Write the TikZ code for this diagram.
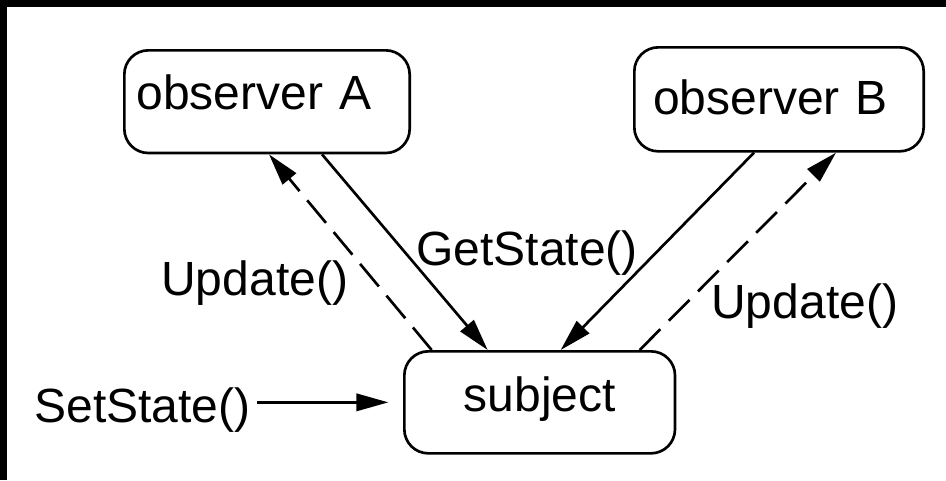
\documentclass[tikz,border=0pt]{standalone}
\usepackage{fontspec}
\setmainfont{Liberation Sans}
\usetikzlibrary{arrows.meta,calc}

\begin{document}
\begin{tikzpicture}[x=0.75pt, y=-0.75pt, line width=2pt,
                    every node/.style={font=\fontsize{36}{40}\selectfont},
                    box node/.style={draw, rounded corners=18pt, inner ysep=0pt, anchor=north west},
                    call/.style={-{Triangle[length=24pt, width=13pt]}},
                    notify/.style={call, dash pattern=on 22pt off 9pt},
                    msg/.style={inner sep=0pt, anchor=base west}]

  % frame edge of the screenshot
  \useasboundingbox (0,0) rectangle (946,480);
  \fill[white] (0,0) rectangle (946,480);
  \fill (0,0) rectangle (946,7);
  \fill (0,0) rectangle (7,480);

  \node[box node, inner xsep=9pt, text width=196pt, align=left,
        text height=44pt, text depth=33pt] (obsA) at (123,49) {observer A};
  \node[box node, inner xsep=14pt, text width=189pt, align=left,
        text height=50pt, text depth=28pt] (obsB) at (633,46) {observer B};
  \node[box node, inner xsep=0pt, text width=203pt, align=center,
        text height=45pt, text depth=31.5pt] (subject) at (403,350) {subject};

  \node[msg] (updA) at (160,295) {Update()};
  \node[msg] (get) at (415,265) {GetState()};
  \node[msg] (updB) at (710,318) {Update()};
  \node[msg] (set) at (33,422) {SetState()};

  \draw[notify] ($(subject.north)+(-108,0)$) -- ($(obsA.south)+(2,0)$);
  \draw[call] ($(obsA.south)+(55,0)$) -- ($(subject.north)+(-52,0)$);
  \draw[call] ($(obsB.south)+(-25,0)$) -- ($(subject.north)+(21,0)$);
  \draw[notify] ($(subject.north)+(100,0)$) -- ($(obsB.south)+(57,0)$);
  \draw[call, shorten <=4pt, shorten >=11pt] (set.east |- subject.west) -- (subject.west);

\end{tikzpicture}
\end{document}
